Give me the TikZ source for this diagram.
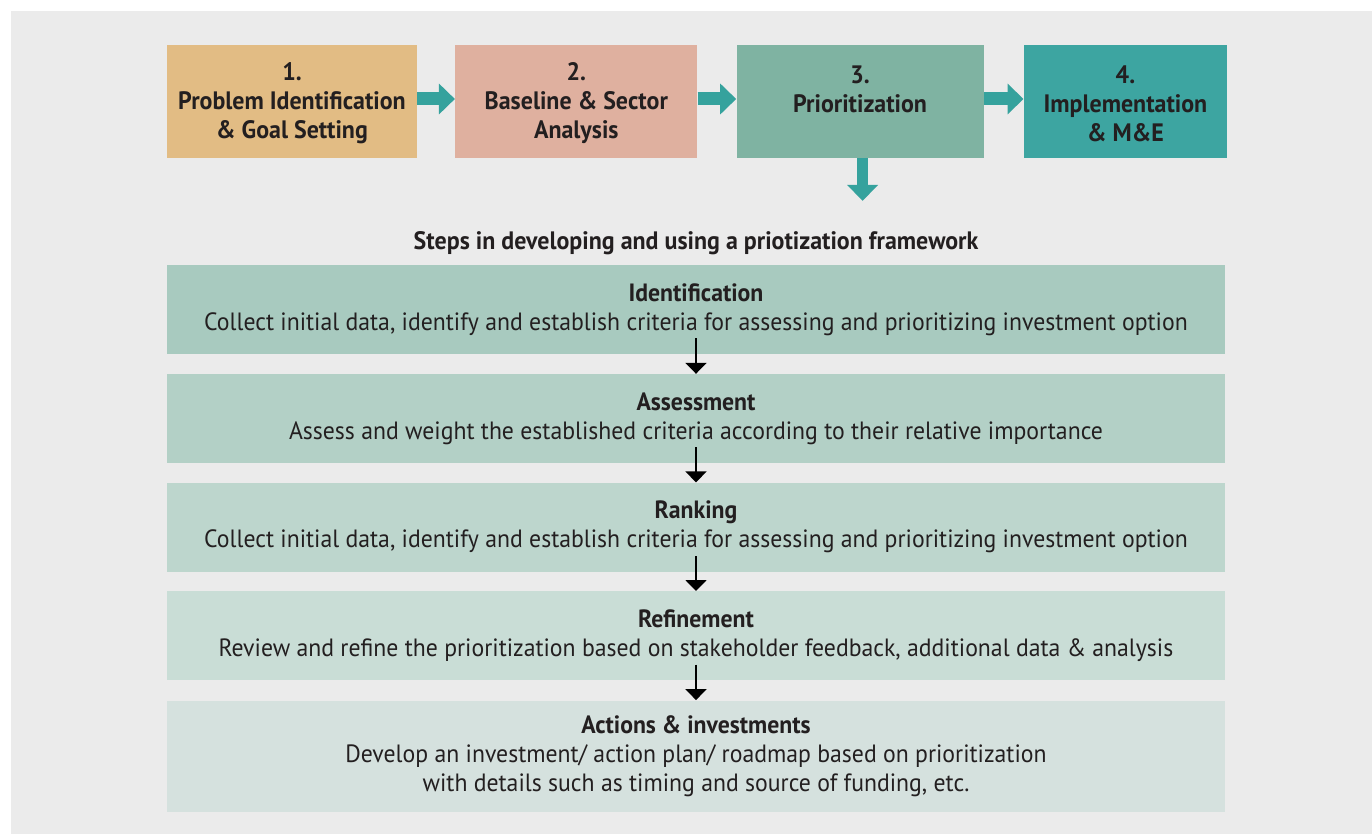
\documentclass[tikz,border=0pt]{standalone}
\usepackage{fontspec}
\setmainfont{PT Sans}[FakeStretch=0.95]
\usepackage{tikz}
\usetikzlibrary{calc,positioning,arrows.meta}
\definecolor{panelgray}{HTML}{EBEBEB}
\definecolor{inkdark}{HTML}{231F20}
\definecolor{arrowteal}{HTML}{35A29D}
\definecolor{stageone}{HTML}{E2BC84}
\definecolor{stagetwo}{HTML}{DFB09F}
\definecolor{stagethree}{HTML}{7FB3A2}
\definecolor{stagefour}{HTML}{3DA5A1}
\definecolor{stepA}{HTML}{A8CABF}
\definecolor{stepB}{HTML}{B3D0C6}
\definecolor{stepC}{HTML}{BDD6CD}
\definecolor{stepD}{HTML}{C9DDD6}
\definecolor{stepE}{HTML}{D5E1DE}
\tikzstyle{stage}     = [rectangle, minimum height=56.5pt, inner sep=0pt, align=center, text=inkdark, font=\fontsize{12.6}{14.5}\selectfont\bfseries]
\tikzstyle{stepbox}   = [rectangle, minimum width=529pt, minimum height=44.4pt, inner sep=0pt, align=center, text=inkdark, font=\fontsize{12.5}{14.5}\selectfont]
\tikzstyle{blockarrow} = [draw=arrowteal, line width=6.5pt, -{Triangle[length=8pt,width=15pt]}]
\tikzstyle{thinarrow} = [draw=black, line width=1pt, -{Triangle[length=5.5pt,width=10.5pt]}]

\begin{document}
\begin{tikzpicture}[x=0.5pt, y=-0.5pt]
		\useasboundingbox (0,0) rectangle (1372,834);
		\fill[panelgray] (11,11) rectangle (1372,834);

		% the four stages
		\node[stage, fill=stageone, minimum width=125pt] (stage1) at (292,101.5)
			{\rule{0pt}{11pt}1.\\Problem Identification\\\& Goal Setting};
		\node[stage, fill=stagetwo, minimum width=121pt, right=18.75pt of stage1] (stage2)
			{\rule{0pt}{11pt}2.\\Baseline \& Sector\\Analysis};
		\node[stage, fill=stagethree, minimum width=123.5pt, right=19.25pt of stage2] (stage3)
			{\rule{0pt}{11pt}3.\\Prioritization\\~};
		\node[stage, fill=stagefour, minimum width=101.5pt, right=19.75pt of stage3] (stage4)
			{\rule{0pt}{11pt}4.\\Implementation\\\& M\&E};

		\draw[blockarrow] ([yshift=1.25pt]stage1.east) -- ([yshift=1.25pt]stage2.west);
		\draw[blockarrow] ([yshift=1.25pt]stage2.east) -- ([yshift=1.25pt]stage3.west);
		\draw[blockarrow] ([yshift=1.25pt]stage3.east) -- ([yshift=1.25pt]stage4.west);
		\coordinate (down) at ([xshift=1.25pt,yshift=-21.25pt]stage3.south);
		\draw[blockarrow, line width=5.25pt] ([xshift=1.25pt]stage3.south) -- (down);

		% framework steps
		\node[font=\fontsize{12.6}{14.5}\selectfont\bfseries, text=inkdark] (title) at (696,243)
			{Steps in developing and using a priotization framework};
		\node[stepbox, fill=stepA] (ident) at (696,309.5)
			{\textbf{Identification}\\Collect initial data, identify and establish criteria for assessing and prioritizing investment option};
		\node[stepbox, fill=stepB, below=9.75pt of ident] (assess)
			{\textbf{Assessment}\\Assess and weight the established criteria according to their relative importance};
		\node[stepbox, fill=stepC, below=9.5pt of assess] (rank)
			{\textbf{Ranking}\\Collect initial data, identify and establish criteria for assessing and prioritizing investment option};
		\node[stepbox, fill=stepD, below=9.5pt of rank] (refine)
			{\textbf{Refinement}\\Review and refine the prioritization based on stakeholder feedback, additional data \& analysis};
		\node[stepbox, fill=stepE, minimum height=55.5pt, below=9.75pt of refine] (act)
			{\textbf{Actions \& investments}\\Develop an investment/ action plan/ roadmap based on prioritization\\with details such as timing and source of funding, etc.};

		\draw[thinarrow] ([yshift=8pt]ident.south) -- (assess.north);
		\draw[thinarrow] ([yshift=8pt]assess.south) -- (rank.north);
		\draw[thinarrow] ([yshift=8pt]rank.south) -- (refine.north);
		\draw[thinarrow] ([yshift=8pt]refine.south) -- (act.north);
	\end{tikzpicture}
\end{document}
